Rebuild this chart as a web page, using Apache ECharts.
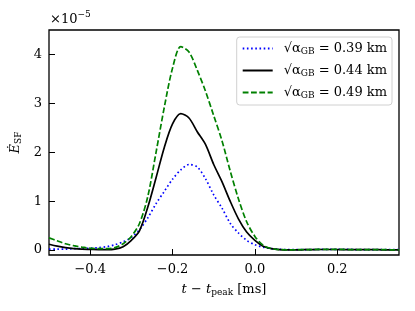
<!DOCTYPE html>
<html>
<head>
<meta charset="utf-8">
<script src="https://cdn.jsdelivr.net/npm/echarts@6/dist/echarts.min.js"></script>
<style>html,body{margin:0;padding:0;background:#fff}#c{width:415px;height:311px}</style>
</head>
<body>
<div id="c"></div>
<script>
// time relative to peak [ms]
const times = [-0.50,-0.48,-0.46,-0.44,-0.42,-0.40,-0.38,-0.36,-0.34,-0.32,-0.30,-0.28,-0.26,-0.24,-0.22,-0.20,-0.18,-0.16,-0.14,-0.12,-0.10,-0.08,-0.06,-0.04,-0.02,0.00,0.02,0.04,0.06,0.08,0.10,0.12,0.14,0.16,0.18,0.20,0.22,0.24,0.26,0.28,0.30,0.32,0.34,0.35];
// values in units of 1e-5
const alpha039 = [0.02,0.02,0.02,0.03,0.03,0.04,0.05,0.07,0.11,0.17,0.26,0.42,0.66,0.95,1.20,1.45,1.64,1.75,1.70,1.46,1.13,0.86,0.55,0.35,0.20,0.11,0.06,0.03,0.015,0.01,0.01,0.01,0.012,0.015,0.015,0.015,0.015,0.012,0.01,0.01,0.01,0.01,0.01,0.01];
const alpha044 = [0.12,0.08,0.05,0.03,0.02,0.015,0.01,0.01,0.02,0.07,0.20,0.40,0.88,1.48,2.10,2.58,2.79,2.70,2.42,2.16,1.75,1.40,1.00,0.64,0.37,0.20,0.08,0.03,0.01,0.005,0.005,0.008,0.01,0.012,0.012,0.012,0.01,0.01,0.008,0.008,0.008,0.005,0.005,0.005];
const alpha049 = [0.25,0.19,0.13,0.09,0.06,0.04,0.03,0.03,0.05,0.13,0.28,0.55,1.10,2.00,2.92,3.72,4.16,4.05,3.68,3.25,2.75,2.24,1.62,1.05,0.58,0.28,0.10,0.03,0.01,0.005,0.008,0.01,0.012,0.015,0.015,0.015,0.012,0.01,0.01,0.01,0.008,0.008,0.005,0.005];
const legendNames = ['0.39','0.44','0.49'];
const xTicks = [-0.4,-0.2,0.0,0.2];
const yTicks = [0,1,2,3,4];

const FONT = 'DejaVu Serif';
const FS = 13;
function pairs(vals){ return times.map((t,i)=>[t, vals[i]]); }
function fmt(v, d){ const s = Math.abs(v).toFixed(d); return v < 0 ? '\u2212' + s : s; }
const names = legendNames.map(v => '{g| }{a|\u221A\u03B1}{s|GB}{a| = ' + v + ' km}');

const chart = echarts.init(document.getElementById('c'), null, {renderer:'canvas'});
const option = {
  animation: false,
  backgroundColor: '#fff',
  grid: {left: 49, right: 16, top: 30, bottom: 56, show: true, borderColor: '#000', borderWidth: 1.3, backgroundColor: 'transparent'},
  legend: {
    orient: 'vertical', right: 23, top: 37,
    itemWidth: 30, itemHeight: 12, itemGap: 8,
    itemStyle: {opacity: 0},
    backgroundColor: 'rgba(255,255,255,0.8)', borderColor: '#d0d0d0', borderWidth: 1, borderRadius: 3,
    padding: [5, 5, 5, 5],
    textStyle: {
      fontFamily: FONT, fontSize: FS, color: '#000',
      rich: {g: {width: 6}, a: {fontFamily: FONT, fontSize: FS, color: '#000'}, s: {fontFamily: FONT, fontSize: 9, color: '#000', padding: [6,0,0,0]}}
    },
    data: names
  },
  xAxis: {
    type: 'value', min: -0.5, max: 0.35,
    axisLine: {show: false, onZero: false},
    splitLine: {show: false},
    axisTick: {show: true, inside: true, length: 6, lineStyle: {color: '#000', width: 1}, customValues: xTicks},
    axisLabel: {fontFamily: FONT, fontSize: FS, color: '#000', margin: 8, customValues: xTicks, formatter: v => fmt(v, 1)},
    name: '{i|t}{a| \u2212 }{i|t}{s|peak}{a| [ms]}',
    nameLocation: 'middle', nameGap: 27,
    nameTextStyle: {
      rich: {
        i: {fontFamily: FONT, fontStyle: 'italic', fontSize: FS, color: '#000'},
        a: {fontFamily: FONT, fontSize: FS, color: '#000'},
        s: {fontFamily: FONT, fontSize: 9, color: '#000', padding: [6,0,0,0]}
      }
    }
  },
  yAxis: {
    type: 'value', min: -0.1, max: 4.5,
    axisLine: {show: false, onZero: false},
    splitLine: {show: false},
    axisTick: {show: true, inside: true, length: 6, lineStyle: {color: '#000', width: 1}, customValues: yTicks},
    axisLabel: {fontFamily: FONT, fontSize: FS, color: '#000', margin: 7, customValues: yTicks, formatter: v => String(v)},
    name: '{i|\u0116}{s|SF}',
    nameLocation: 'middle', nameGap: 23, nameRotate: 90,
    nameTextStyle: {
      rich: {
        i: {fontFamily: FONT, fontStyle: 'italic', fontSize: FS, color: '#000'},
        s: {fontFamily: FONT, fontSize: 9, color: '#000', padding: [6,0,0,0]}
      }
    }
  },
  graphic: [{
    type: 'text', left: 50, top: 10,
    style: {
      text: '{a|\u00D710}{s|\u22125}',
      rich: {
        a: {fontFamily: FONT, fontSize: FS, fill: '#000', padding: [4,0,0,0]},
        s: {fontFamily: FONT, fontSize: 9, fill: '#000', padding: [0,0,6,0]}
      }
    }
  }],
  series: [
    {name: names[0], type: 'line', data: pairs(alpha039), smooth: 0.3, symbol: 'none', lineStyle: {color: '#0000ff', width: 1.7, type: [1.6, 2.6]}, itemStyle: {color: '#0000ff'}},
    {name: names[1], type: 'line', data: pairs(alpha044), smooth: 0.3, symbol: 'none', lineStyle: {color: '#000000', width: 1.7, type: 'solid'}, itemStyle: {color: '#000000'}},
    {name: names[2], type: 'line', data: pairs(alpha049), smooth: 0.3, symbol: 'none', lineStyle: {color: '#008000', width: 1.7, type: [5.8, 2.5]}, itemStyle: {color: '#008000'}}
  ]
};
chart.setOption(option);
</script>
</body>
</html>
